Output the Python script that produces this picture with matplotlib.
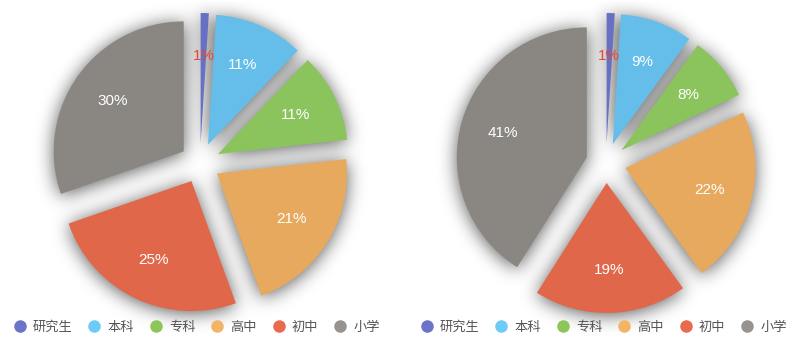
import matplotlib.pyplot as plt
from matplotlib.lines import Line2D
import numpy as np

plt.rcParams['font.family'] = ['Noto Sans CJK SC', 'DejaVu Sans']

categories = ['研究生', '本科', '专科', '高中', '初中', '小学']
left_vals = [1, 11, 11, 21, 25, 30]
right_vals = [1, 9, 8, 22, 19, 41]

slice_colors = ['#6770c2', '#65bdea', '#8bc45c', '#e6a95e', '#e1674b', '#8a8782']
legend_colors = ['#6b74c8', '#6ccbf7', '#8cc65a', '#f2b566', '#ea6a4f', '#97938e']

W, H = 803, 341
fig = plt.figure(figsize=(W / 100, H / 100), dpi=100)
ax = fig.add_axes([0, 0, 1, 1])

R = 130
EXPL = 20


def draw_pie(vals, cx, cy):
    wedges, _, autotexts = ax.pie(
        vals, center=(cx, cy), radius=R, explode=[EXPL] * len(vals),
        colors=slice_colors, startangle=90, counterclock=False,
        autopct=lambda p: '%d%%' % round(p), pctdistance=0.67,
        wedgeprops=dict(linewidth=0, zorder=3),
        textprops=dict(color='white', fontsize=11, family='Liberation Sans', zorder=4))
    autotexts[0].set_color('#e5483a')
    return wedges


wedges = draw_pie(left_vals, 200, H - 163) + draw_pie(right_vals, 606, H - 163)

# soft shadow behind the slices
xx, yy = np.meshgrid(np.arange(W) + 0.5, np.arange(H) + 0.5)
pts = np.column_stack([xx.ravel(), yy.ravel()])
mask = np.zeros(W * H)
for w in wedges:
    mask = np.maximum(mask, w.get_path().contains_points(pts, transform=w.get_patch_transform()))
mask = mask.reshape(H, W)
sig = 9
k = np.exp(-0.5 * (np.arange(-3 * sig, 3 * sig + 1) / sig) ** 2)
k /= k.sum()
blur = np.array([np.convolve(r, k, mode='same') for r in mask])
blur = np.array([np.convolve(c, k, mode='same') for c in blur.T]).T
blur = np.roll(blur, -2, axis=0)
shadow = np.zeros((H, W, 4))
shadow[..., 3] = np.clip(blur * 0.65, 0, 1)
ax.imshow(shadow, extent=(0, W, 0, H), origin='lower', zorder=1)

ax.set_xlim(0, W)
ax.set_ylim(0, H)
ax.set_aspect('auto')
ax.axis('off')

handles = [Line2D([], [], marker='o', ls='', color=c, markersize=8) for c in legend_colors]
for xc in (197 / W, 604 / W):
    lg = fig.legend(handles, categories, loc='center', bbox_to_anchor=(xc, 14 / H),
                    ncol=6, frameon=False, fontsize=9.5, labelcolor='#555555',
                    handlelength=0.8, handletextpad=0.6, columnspacing=1.25)

fig.savefig('out.png', dpi=100)
